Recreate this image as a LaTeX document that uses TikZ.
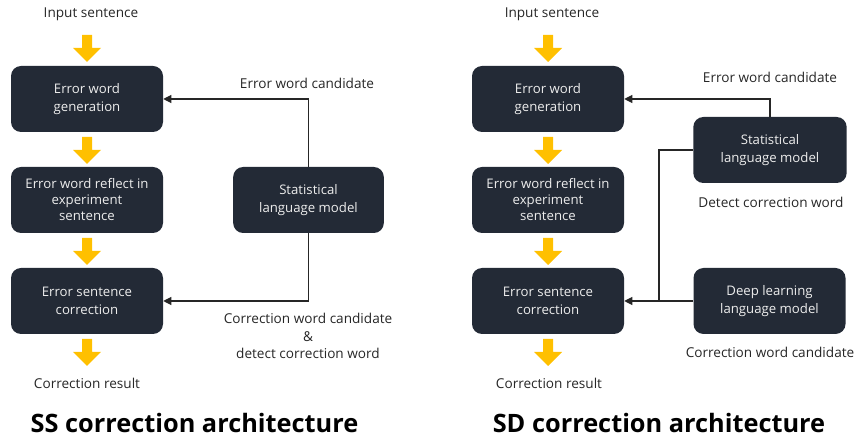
\documentclass[tikz,border=0pt]{standalone}
\usepackage{fontspec}
\setmainfont{Open Sans}
\usetikzlibrary{arrows.meta}
\definecolor{boxfill}{HTML}{232A36}
\definecolor{boxtext}{HTML}{EDEDED}
\definecolor{yarr}{HTML}{FFC000}
\definecolor{lbl}{HTML}{262626}
\tikzset{
  x=0.75pt,y=-0.75pt,
  stepbox/.style={draw=none,fill=boxfill,rounded corners=7.5pt,text=boxtext,align=center,
    minimum width=114pt,minimum height=49.5pt,inner sep=1pt,font=\fontsize{9.9}{13.5}\selectfont},
  lab/.style={text=lbl,align=center,inner sep=0pt,font=\fontsize{10.2}{13.1}\selectfont},
  ttl/.style={text=black,inner sep=0pt,font=\fontsize{19}{22}\selectfont\bfseries},
  conn/.style={draw=black!85,line width=0.8pt},
  connarr/.style={conn,-{Triangle[length=6pt,width=6pt]}},
  ydown/.pic={\fill[yarr] (-5,0) -- (5,0) -- (5,13) -- (14,13) -- (0,27) -- (-14,13) -- (-5,13) -- cycle;}
}
\begin{document}
\begin{tikzpicture}
\useasboundingbox (0,0) rectangle (857,441);
% ---------- left: SS ----------
\node[lab] (inL) at (91,14) {Input sentence};
\pic at (87,35) {ydown};
\node[stepbox] (b1L) at (87,99) {Error word\\generation};
\pic at (87,137) {ydown};
\node[stepbox] (b2L) at (87,200) {Error word reflect in\\[-1.5pt]experiment\\[-1.5pt]sentence};
\pic at (87,238) {ydown};
\node[stepbox] (b3L) at (87,301) {Error sentence\\correction};
\pic at (87,339) {ydown};
\node[lab] (outL) at (87,383) {Correction result};
\node[stepbox,minimum width=113pt] (slmL) at (308.5,200) {Statistical\\language model};
\node[lab] (ewcL) at (307,83) {Error word candidate};
\node[lab] (cwcL) at (308,336) {Correction word candidate\\\&\\detect correction word};
\draw[connarr] (slmL.north) |- (b1L.east);
\draw[connarr] (slmL.south) |- (b3L.east);
\node[ttl] (tL) at (194.5,423) {SS correction architecture};
% ---------- right: SD ----------
\node[lab] (inR) at (552,14) {Input sentence};
\pic at (548,35) {ydown};
\node[stepbox] (b1R) at (548,99) {Error word\\generation};
\pic at (548,137) {ydown};
\node[stepbox] (b2R) at (548,200) {Error word reflect in\\[-1.5pt]experiment\\[-1.5pt]sentence};
\pic at (548,238) {ydown};
\node[stepbox] (b3R) at (548,301) {Error sentence\\correction};
\pic at (548,339) {ydown};
\node[lab] (outR) at (549,383) {Correction result};
\node[stepbox,minimum width=115pt] (slmR) at (770,150) {Statistical\\language model};
\node[stepbox,minimum width=114pt] (dlR) at (769.5,301) {Deep learning\\language model};
\node[lab] (ewcR) at (770,77) {Error word candidate};
\node[lab] (dcwR) at (771,202) {Detect correction word};
\node[lab] (cwcR) at (770,352) {Correction word candidate};
\coordinate (jR) at (659,301);
\draw[connarr] (slmR.north) |- (b1R.east);
\draw[conn] (slmR.west) -| (jR);
\draw[connarr] (dlR.west) -- (b3R.east);
\node[ttl] (tR) at (659,423) {SD correction architecture};
\end{tikzpicture}
\end{document}
